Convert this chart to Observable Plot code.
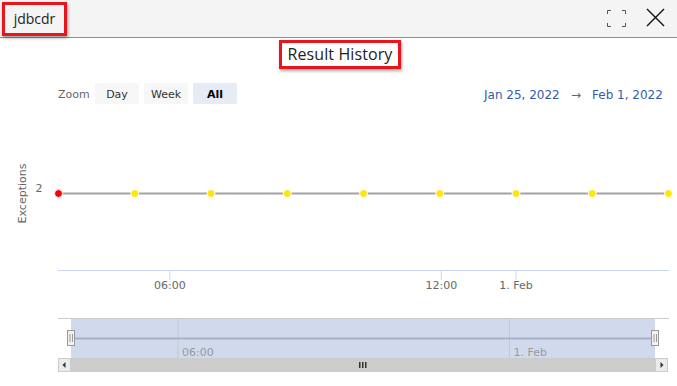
<!DOCTYPE html>
<html><head><meta charset="utf-8">
<script src="https://cdn.jsdelivr.net/npm/d3@7"></script>
<script src="https://cdn.jsdelivr.net/npm/@observablehq/plot@0.6"></script>
<style>
body{margin:0;width:677px;height:386px;overflow:hidden;background:#fff;position:relative;font-family:"DejaVu Sans",sans-serif}
.abs{position:absolute}
#header{left:0;top:0;width:677px;height:37px;background:#f4f4f4;border-bottom:1px solid #47a8cb}
#tag{left:2px;top:2px;width:59px;height:28px;border:3px solid #e8161c;box-shadow:1px 2px 3px rgba(0,0,0,0.35);font-family:"Open Sans",sans-serif;font-size:14px;color:#222;line-height:27px;text-align:center}
#title{left:279px;top:40px;width:116px;height:23px;border:3px solid #e8161c;box-shadow:1px 2px 3px rgba(0,0,0,0.35);font-family:"Open Sans",sans-serif;font-size:16px;color:#222;line-height:22px;text-align:center;letter-spacing:0.1px}
.btn{top:83px;height:21px;line-height:23px;font-size:11px;color:#333;text-align:center;background:#f7f7f7;border-radius:2px}
#zoomLbl{left:58px;top:83px;line-height:24px;font-size:11px;color:#666}
.rng{top:85px;font-size:12px;line-height:20px}
#main{left:0;top:110px}
#nav{left:0;top:310px}
</style></head><body>
<div id="header" class="abs"></div>
<div id="tag" class="abs">jdbcdr</div>
<svg class="abs" style="left:600px;top:4px" width="77" height="30">
  <g stroke="#555" stroke-width="1" fill="none">
    <path d="M7.5 10V6.5H11M22 6.5H25.5V10M25.5 19V22.5H22M11 22.5H7.5V19"/>
  </g>
  <g stroke="#111" stroke-width="1.4"><path d="M47 5L64 22M64 5L47 22"/></g>
</svg>
<div id="title" class="abs">Result History</div>
<div id="zoomLbl" class="abs">Zoom</div>
<div class="abs btn" style="left:95px;width:44px">Day</div>
<div class="abs btn" style="left:144px;width:44px">Week</div>
<div class="abs btn" style="left:193px;width:44px;background:#e6ebf5;color:#000;font-weight:bold">All</div>
<div class="abs rng" style="left:484px;color:#335cad">Jan 25, 2022</div>
<div class="abs rng" style="left:571px;color:#666">→</div>
<div class="abs rng" style="left:592px;color:#335cad">Feb 1, 2022</div>
<div id="main" class="abs"></div>
<div id="nav" class="abs"></div>
<script>
// ---- data ----
const pointIndex = [0, 1, 2, 3, 4, 5, 6, 7, 8];
const exceptions = [2, 2, 2, 2, 2, 2, 2, 2, 2];
const pointColors = ["#ff0000", "#ffe800", "#ffe800", "#ffe800", "#ffe800", "#ffe800", "#ffe800", "#ffe800", "#ffe800"];
const xTickPos = [1.46, 5.02, 6];
const xTickLabels = ["06:00", "12:00", "1. Feb"];
const navTickPos = [1.46, 6];
const navTickLabels = ["06:00", "1. Feb"];
const yTicks = [2];
const yLabel = "Exceptions";
const navPad = 0.178;

const data = pointIndex.map((x, i) => ({x, y: exceptions[i], color: pointColors[i]}));
const xMin = d3.min(pointIndex), xMax = d3.max(pointIndex);

const main = Plot.plot({
  width: 677, height: 190,
  marginTop: 6, marginBottom: 30, marginLeft: 58, marginRight: 9,
  x: {domain: [xMin, xMax], axis: null},
  y: {domain: [1, 3], axis: null},
  color: {type: "identity"},
  style: {fontFamily: "DejaVu Sans", fontSize: "11px", background: "transparent", overflow: "visible"},
  marks: [
    Plot.frame({anchor: "bottom", stroke: "#ccd6eb"}),
    Plot.axisX(xTickPos, {tickSize: 10, tickPadding: 1, stroke: "#ccd6eb", fill: "#666", label: null,
      tickFormat: d => xTickLabels[xTickPos.indexOf(d)]}),
    Plot.axisY(yTicks, {tickSize: 0, tickPadding: 16, dy: -5, fill: "#666", label: null, tickFormat: d => String(d)}),
    Plot.text([yLabel], {frameAnchor: "left", textAnchor: "middle", text: d => d, rotate: -90, dx: -36, fill: "#666"}),
    Plot.line(data, {x: "x", y: "y", stroke: "#a3a3a3", strokeWidth: 2}),
    Plot.dot(data, {x: "x", y: "y", fill: "color", r: 4, stroke: "#fff", strokeWidth: 1})
  ]
});
document.getElementById("main").appendChild(main);

const nav = Plot.plot({
  width: 677, height: 70,
  marginTop: 8, marginBottom: 22, marginLeft: 58, marginRight: 9,
  x: {domain: [xMin - navPad, xMax + navPad], axis: null},
  y: {domain: [1, 3], axis: null},
  style: {fontFamily: "DejaVu Sans", fontSize: "11px", background: "transparent", overflow: "visible"},
  marks: [
    Plot.rect([[xMin, xMax]], {x1: d => d[0], x2: d => d[1], fill: "#d1daed"}),
    Plot.ruleX(navTickPos, {stroke: "#bfc8db"}),
    Plot.line(data, {x: "x", y: "y", stroke: "#a7b0c7", strokeWidth: 2}),
    Plot.text(navTickPos, {x: d => d, text: d => navTickLabels[navTickPos.indexOf(d)],
      frameAnchor: "bottom", lineAnchor: "bottom", dx: 4, dy: -3, textAnchor: "start", fill: "#999"}),
    Plot.frame({anchor: "top", stroke: "#cccccc"})
  ]
});
document.getElementById("nav").appendChild(nav);

// handles & scrollbar positioned with the navigator's own scales
const sx = nav.scale("x"), sy = nav.scale("y");
const svg = d3.select(nav);
const x0 = sx.apply(sx.domain[0]), x1 = sx.apply(sx.domain[1]);
const a = sx.apply(xMin), b = sx.apply(xMax);
const yBot = sy.range[0];
const sb = svg.append("g");
sb.append("rect").attr("x", a).attr("y", yBot).attr("width", b - a).attr("height", 14).attr("fill", "#cccccc");
[[x0, a, 1], [b, x1, -1]].forEach(([l, r, dir]) => {
  sb.append("rect").attr("x", l + 0.5).attr("y", yBot + 0.5).attr("width", r - l - 1).attr("height", 13)
    .attr("fill", "#ebebeb").attr("stroke", "#cccccc");
  const cx = (l + r) / 2, cy = yBot + 7;
  sb.append("path").attr("d", dir > 0 ? `M${cx + 1} ${cy - 3}L${cx - 2} ${cy}L${cx + 1} ${cy + 3}Z` : `M${cx - 1} ${cy - 3}L${cx + 2} ${cy}L${cx - 1} ${cy + 3}Z`)
    .attr("fill", "#333");
});
const mid = (a + b) / 2;
[-3, 0, 3].forEach(o => sb.append("rect").attr("x", mid + o - 1).attr("y", yBot + 4).attr("width", 1.5).attr("height", 6).attr("fill", "#333"));
const hy = sy.apply(2);
[a, b].forEach(hx => {
  const h = svg.append("g");
  h.append("rect").attr("x", hx - 3.5).attr("y", hy - 7.5).attr("width", 7).attr("height", 15)
    .attr("fill", "#f2f2f2").attr("stroke", "#999");
  h.append("path").attr("d", `M${hx - 1} ${hy - 4}V${hy + 4}M${hx + 1.5} ${hy - 4}V${hy + 4}`).attr("stroke", "#999");
});
</script>
</body></html>
